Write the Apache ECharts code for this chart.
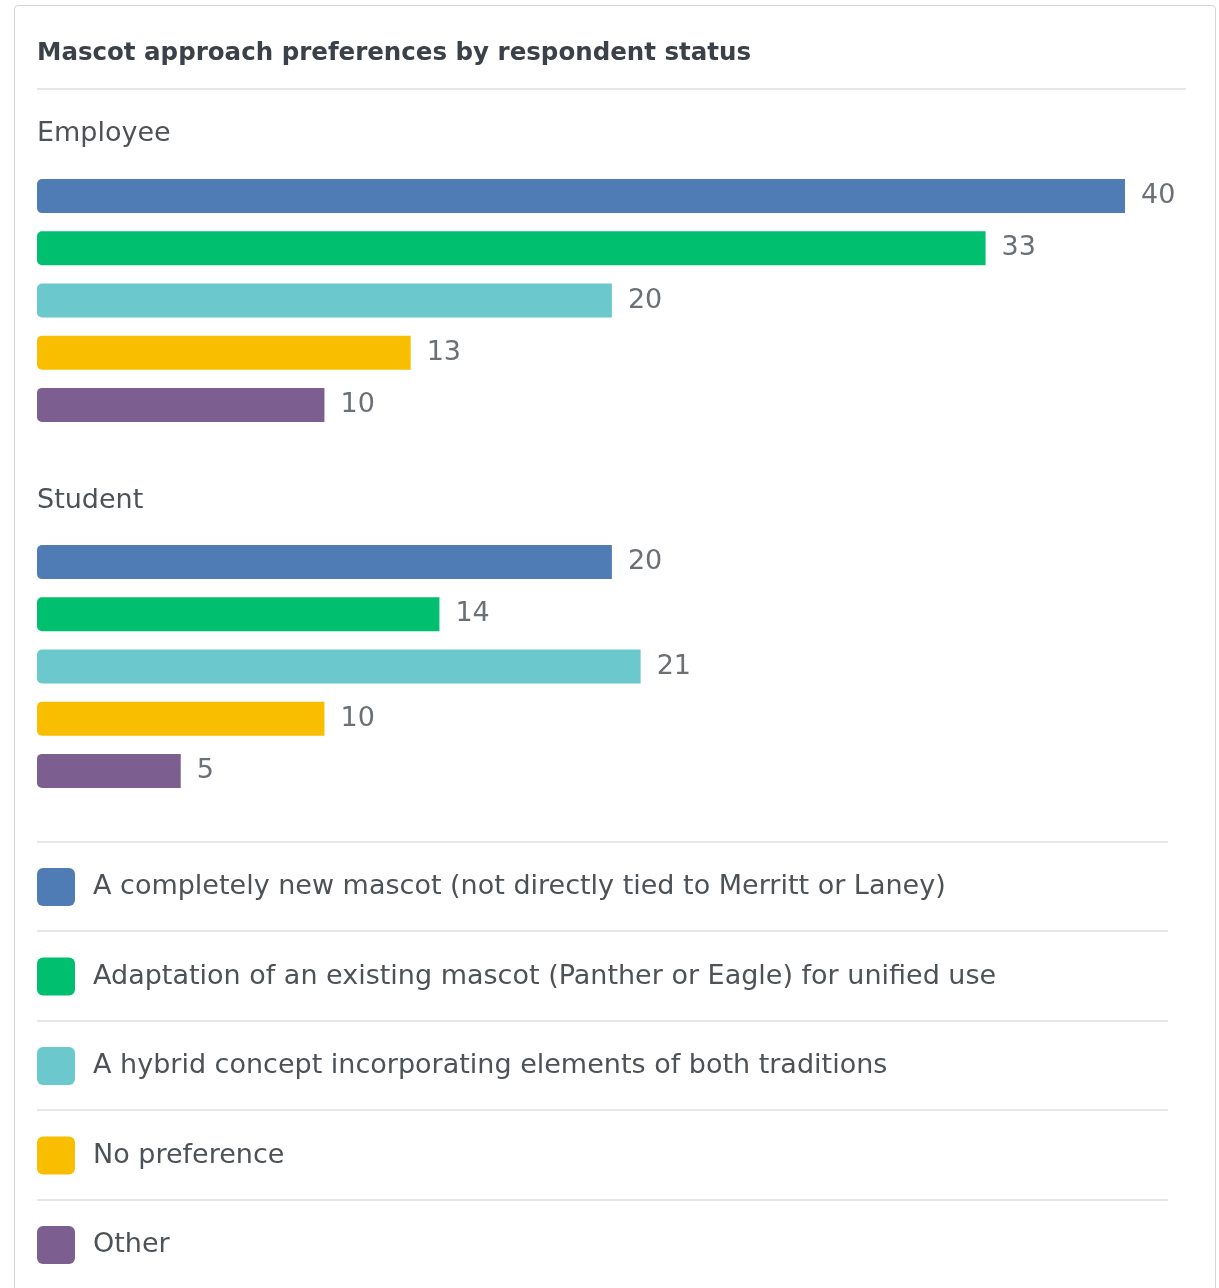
<!DOCTYPE html>
<html>
<head>
<meta charset="utf-8">
<script src="https://cdn.jsdelivr.net/npm/echarts@6/dist/echarts.min.js"></script>
<style>
  html, body { margin: 0; padding: 0; background: #fff; }
  #card {
    position: absolute; left: 14px; top: 5px; width: 1202px; height: 1310px;
    border: 1px solid #d4d4d4; border-radius: 4px; box-sizing: border-box;
  }
  #chart { position: absolute; left: 0; top: 0; width: 1219px; height: 1288px; }
</style>
</head>
<body>
<div id="card"></div>
<div id="chart"></div>
<script>
// ── Data ───────────────────────────────────────────────
const TITLE   = 'Mascot approach preferences by respondent status';
const groups  = ['Employee', 'Student'];
const options = [
  'A completely new mascot (not directly tied to Merritt or Laney)',
  'Adaptation of an existing mascot (Panther or Eagle) for unified use',
  'A hybrid concept incorporating elements of both traditions',
  'No preference',
  'Other',
];
const employeeCounts = [40, 33, 20, 13, 10];
const studentCounts  = [20, 14, 21, 10, 5];
const colors = ['#507cb6', '#00bf6f', '#6bc8cd', '#f9be00', '#7d5e90'];

// ── Layout ─────────────────────────────────────────────
const FONT       = 'DejaVu Sans';
const GRID_LEFT  = 37;
const GRID_RIGHT = 94;
const ROW_H      = 52.2;
const GRID_TOPS  = [170, 536];
const X_MAX      = 37.85;   // longest bar is capped like the original widget

const chart = echarts.init(document.getElementById('chart'));

const grids = GRID_TOPS.map(top => ({
  left: GRID_LEFT, right: GRID_RIGHT, top, height: ROW_H * options.length, containLabel: false,
}));

const xAxes = grids.map((_, gi) => ({
  type: 'value', gridIndex: gi, min: 0, max: X_MAX, show: false,
}));
const yAxes = grids.map((_, gi) => ({
  type: 'category', gridIndex: gi, data: options, inverse: true, show: false,
}));

const series = [];
[employeeCounts, studentCounts].forEach((counts, gi) => {
  options.forEach((name, i) => {
    series.push({
      type: 'bar',
      name,
      xAxisIndex: gi,
      yAxisIndex: gi,
      data: [[counts[i], i]],
      barWidth: 34,
      barGap: '-100%',
      clip: true,
      itemStyle: { color: colors[i], borderRadius: [5, 0, 0, 5] },
      label: {
        show: true, position: 'right', distance: 16,
        color: '#6b7075', fontSize: 27, fontFamily: FONT,
        formatter: p => p.value[0],
      },
      emphasis: { disabled: true },
      animation: false,
    });
  });
});

// ── Separator lines ────────────────────────────────────
const sepLine = (y, x2) => ({
  type: 'line', silent: true,
  shape: { x1: 37, y1: y, x2, y2: y },
  style: { stroke: '#e6e6e6', lineWidth: 2 },
});
const legendSeps = [842, 931, 1021, 1110, 1200];

chart.setOption({
  backgroundColor: 'transparent',
  title: [
    { text: TITLE, left: 37, top: 41, padding: 0,
      textStyle: { fontFamily: FONT, fontSize: 24.5, fontWeight: 'bold', color: '#3b4148' } },
    { text: groups[0], left: 37, top: 120, padding: 0,
      textStyle: { fontFamily: FONT, fontSize: 27, fontWeight: 'normal', color: '#4d5257' } },
    { text: groups[1], left: 37, top: 487, padding: 0,
      textStyle: { fontFamily: FONT, fontSize: 27, fontWeight: 'normal', color: '#4d5257' } },
  ],
  legend: {
    data: options,
    orient: 'vertical',
    left: 37, top: 868,
    padding: 0,
    icon: 'path://M6,0H32A6,6,0,0,1,38,6V32A6,6,0,0,1,32,38H6A6,6,0,0,1,0,32V6A6,6,0,0,1,6,0Z',
    itemWidth: 38, itemHeight: 38,
    itemGap: 51.5,
    selectedMode: false,
    textStyle: {
      fontFamily: FONT, fontSize: 27, color: '#4d5257',
      padding: [0, 0, 0, 13],
    },
  },
  grid: grids,
  xAxis: xAxes,
  yAxis: yAxes,
  series,
  graphic: [sepLine(89, 1186), ...legendSeps.map(y => sepLine(y, 1168))],
});
</script>
</body>
</html>
